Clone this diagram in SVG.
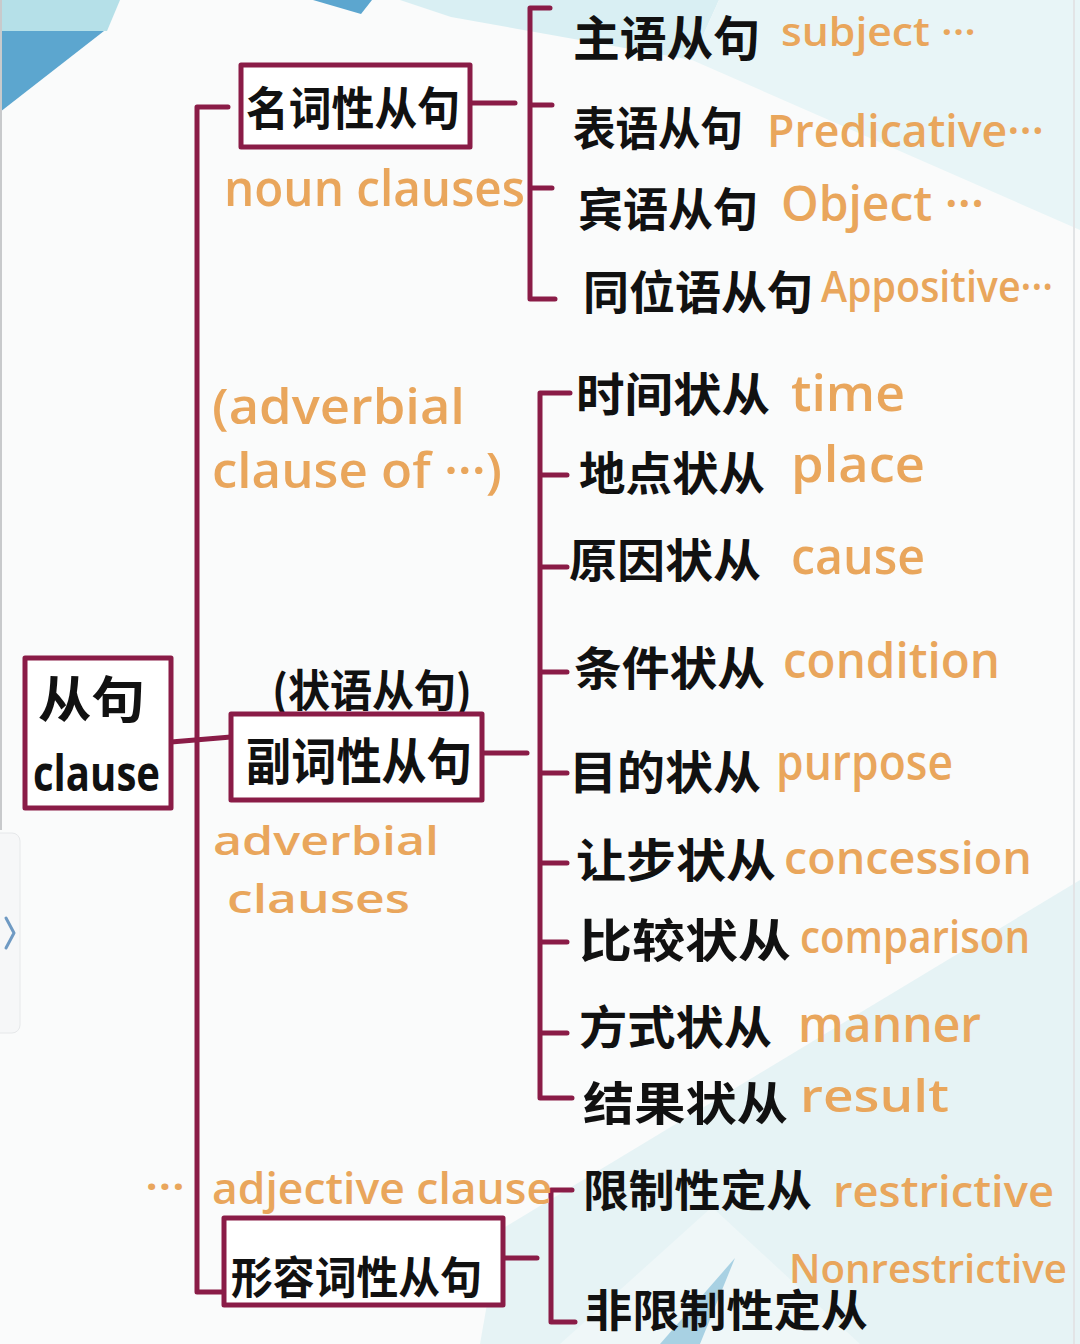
<svg xmlns="http://www.w3.org/2000/svg" width="1080" height="1344" viewBox="0 0 1080 1344">
<style>
.ln{fill:none;stroke:#8A1C47;stroke-width:5;stroke-linecap:round;stroke-linejoin:round}
.box{fill:#fff;stroke:#8A1C47;stroke-width:5;stroke-linejoin:round}
.zh{font-family:"Noto Sans CJK SC","Noto Sans CJK JP",sans-serif;font-weight:700;fill:#111}
.en{font-family:"Open Sans","DejaVu Sans",sans-serif;font-weight:600;fill:#E9A65C}
.enk{font-family:"Open Sans","DejaVu Sans",sans-serif;font-weight:700;fill:#111}
</style>
<g id="background">
<rect x="0" y="0" width="1080" height="1344" fill="#FAFBFB"/>
<polygon points="400,0 719,0 692,60 451,17" fill="#D9EFF3"/>
<polygon points="719,0 1080,0 1080,230 692,60" fill="#E8F5F7"/>
<polygon points="0,0 120,0 107,31 0,31" fill="#B5E0E8"/>
<polygon points="0,31 104,31 0,112" fill="#5CA6CF"/>
<polygon points="313,0 372,0 361,14" fill="#5CA6CF"/>
<polygon points="1080,880 1080,1344 480,1344 500,1230" fill="#E6F3F5"/>
<polygon points="712,1207 860,1344 560,1344" fill="#EFF7F8"/>
<polygon points="735,1258 700,1344 660,1344" fill="#A8D1E3"/>
<line x1="1" y1="0" x2="1" y2="830" stroke="#C8CACC" stroke-width="2"/>
<line x1="1074" y1="0" x2="1074" y2="1344" stroke="#E2E4E6" stroke-width="2"/>
<rect x="-12" y="833" width="32" height="200" rx="8" fill="#F6F7F8" stroke="#E6E8EA" stroke-width="1"/>
<polyline points="6,918 14,933 6,948" fill="none" stroke="#6F9AC3" stroke-width="3" stroke-linecap="round" stroke-linejoin="round"/>
</g>
<g id="connectors">
<path class="ln" d="M228,107 H197 V1292 H224"/>
<path class="ln" d="M171,742 L231,737"/>
<path class="ln" d="M470,103 H515"/>
<path class="ln" d="M550,8 H530 V299 H555 M530,105 H552 M530,188 H552"/>
<path class="ln" d="M482,753 H527"/>
<path class="ln" d="M570,393 H540 V1098 H572 M540,475 H567 M540,567 H567 M540,672 H567 M540,773 H567 M540,863 H567 M540,942 H567 M540,1033 H567"/>
<path class="ln" d="M503,1258 H537"/>
<path class="ln" d="M572,1190 H551 V1322 H575"/>
</g>
<g id="root">
<rect class="box" x="25" y="658" width="146" height="150"/>
<text class="zh" x="38" y="718" font-size="50" textLength="107" lengthAdjust="spacingAndGlyphs">从句</text>
<text class="enk" x="33" y="791" font-size="50" textLength="127" lengthAdjust="spacingAndGlyphs">clause</text>
</g>
<g id="noun">
<rect class="box" x="241" y="65" width="229" height="82"/>
<text class="zh" x="246" y="125" font-size="46" textLength="214" lengthAdjust="spacingAndGlyphs">名词性从句</text>
<text class="en" x="224" y="206" font-size="50" textLength="301" lengthAdjust="spacingAndGlyphs">noun clauses</text>
</g>
<g id="noun-subject">
<text class="zh" x="573" y="56" font-size="48" textLength="187" lengthAdjust="spacingAndGlyphs">主语从句</text>
<text class="en" x="781" y="46" font-size="40" textLength="195" lengthAdjust="spacingAndGlyphs">subject ···</text>
</g>
<g id="noun-predicative">
<text class="zh" x="573" y="145" font-size="46" textLength="170" lengthAdjust="spacingAndGlyphs">表语从句</text>
<text class="en" x="767" y="147" font-size="46" textLength="277" lengthAdjust="spacingAndGlyphs">Predicative···</text>
</g>
<g id="noun-object">
<text class="zh" x="578" y="226" font-size="46" textLength="180" lengthAdjust="spacingAndGlyphs">宾语从句</text>
<text class="en" x="781" y="221" font-size="48" textLength="203" lengthAdjust="spacingAndGlyphs">Object ···</text>
</g>
<g id="noun-appositive">
<text class="zh" x="583" y="309" font-size="46" textLength="230" lengthAdjust="spacingAndGlyphs">同位语从句</text>
<text class="en" x="821" y="302" font-size="44" textLength="232" lengthAdjust="spacingAndGlyphs">Appositive···</text>
</g>
<g id="adverbial">
<text class="en" x="212" y="424" font-size="48" textLength="253" lengthAdjust="spacingAndGlyphs">(adverbial</text>
<text class="en" x="212" y="488" font-size="48" textLength="290" lengthAdjust="spacingAndGlyphs">clause of ···)</text>
<text class="zh" x="272" y="707" font-size="44" textLength="200" lengthAdjust="spacingAndGlyphs">(状语从句)</text>
<rect class="box" x="231" y="714" width="251" height="86"/>
<text class="zh" x="246" y="780" font-size="50" textLength="226" lengthAdjust="spacingAndGlyphs">副词性从句</text>
<text class="en" x="213" y="855" font-size="40" textLength="226" lengthAdjust="spacingAndGlyphs">adverbial</text>
<text class="en" x="227" y="913" font-size="40" textLength="183" lengthAdjust="spacingAndGlyphs">clauses</text>
</g>
<g id="adv-time">
<text class="zh" x="576" y="411" font-size="46" textLength="194" lengthAdjust="spacingAndGlyphs">时间状从</text>
<text class="en" x="791" y="411" font-size="50" textLength="114" lengthAdjust="spacingAndGlyphs">time</text>
</g>
<g id="adv-place">
<text class="zh" x="579" y="490" font-size="46" textLength="186" lengthAdjust="spacingAndGlyphs">地点状从</text>
<text class="en" x="791" y="482" font-size="50" textLength="134" lengthAdjust="spacingAndGlyphs">place</text>
</g>
<g id="adv-cause">
<text class="zh" x="569" y="577" font-size="46" textLength="192" lengthAdjust="spacingAndGlyphs">原因状从</text>
<text class="en" x="791" y="574" font-size="50" textLength="134" lengthAdjust="spacingAndGlyphs">cause</text>
</g>
<g id="adv-condition">
<text class="zh" x="574" y="685" font-size="46" textLength="191" lengthAdjust="spacingAndGlyphs">条件状从</text>
<text class="en" x="783" y="678" font-size="48" textLength="217" lengthAdjust="spacingAndGlyphs">condition</text>
</g>
<g id="adv-purpose">
<text class="zh" x="569" y="789" font-size="46" textLength="192" lengthAdjust="spacingAndGlyphs">目的状从</text>
<text class="en" x="776" y="780" font-size="48" textLength="177" lengthAdjust="spacingAndGlyphs">purpose</text>
</g>
<g id="adv-concession">
<text class="zh" x="576" y="877" font-size="46" textLength="200" lengthAdjust="spacingAndGlyphs">让步状从</text>
<text class="en" x="784" y="874" font-size="46" textLength="248" lengthAdjust="spacingAndGlyphs">concession</text>
</g>
<g id="adv-comparison">
<text class="zh" x="579" y="957" font-size="46" textLength="212" lengthAdjust="spacingAndGlyphs">比较状从</text>
<text class="en" x="800" y="953" font-size="46" textLength="230" lengthAdjust="spacingAndGlyphs">comparison</text>
</g>
<g id="adv-manner">
<text class="zh" x="579" y="1044" font-size="46" textLength="193" lengthAdjust="spacingAndGlyphs">方式状从</text>
<text class="en" x="798" y="1042" font-size="48" textLength="183" lengthAdjust="spacingAndGlyphs">manner</text>
</g>
<g id="adv-result">
<text class="zh" x="583" y="1120" font-size="46" textLength="205" lengthAdjust="spacingAndGlyphs">结果状从</text>
<text class="en" x="800" y="1112" font-size="46" textLength="149" lengthAdjust="spacingAndGlyphs">result</text>
</g>
<g id="adjective">
<text class="en" x="145" y="1202" font-size="44" textLength="40" lengthAdjust="spacingAndGlyphs">···</text>
<text class="en" x="212" y="1204" font-size="44" textLength="340" lengthAdjust="spacingAndGlyphs">adjective clause</text>
<rect class="box" x="224" y="1218" width="279" height="87"/>
<text class="zh" x="231" y="1294" font-size="44" textLength="251" lengthAdjust="spacingAndGlyphs">形容词性从句</text>
</g>
<g id="adj-restrictive">
<text class="zh" x="583" y="1207" font-size="44" textLength="229" lengthAdjust="spacingAndGlyphs">限制性定从</text>
<text class="en" x="833" y="1207" font-size="44" textLength="221" lengthAdjust="spacingAndGlyphs">restrictive</text>
</g>
<g id="adj-nonrestrictive">
<text class="en" x="789" y="1283" font-size="40" textLength="278" lengthAdjust="spacingAndGlyphs">Nonrestrictive</text>
<text class="zh" x="585" y="1327" font-size="44" textLength="283" lengthAdjust="spacingAndGlyphs">非限制性定从</text>
</g>
</svg>
